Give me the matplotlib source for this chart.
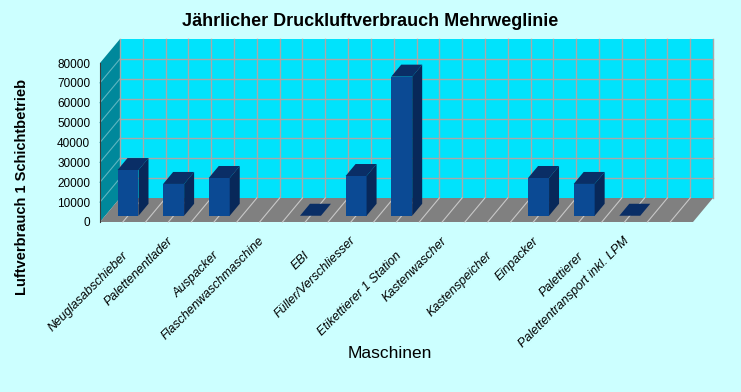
import numpy as np
import matplotlib
matplotlib.use("Agg")
import matplotlib.pyplot as plt
from matplotlib.patches import Polygon

plt.rcParams["font.family"] = ["Liberation Sans", "DejaVu Sans"]

# --- Daten ---
maschinen = ["Neuglasabschieber", "Palettenentlader", "Auspacker",
             "Flaschenwaschmaschine", "EBI", "Füller/Verschliesser",
             "Etikettierer 1 Station", "Kastenwascher", "Kastenspeicher",
             "Einpacker", "Palettierer", "Palettentransport inkl. LPM", ""]
verbrauch = [23000, 16000, 19000, None, 0, 20000, 70000, None, None,
             19000, 16000, 0, None]
y_ticks = [0, 10000, 20000, 30000, 40000, 50000, 60000, 70000, 80000]

# --- Farben ---
bg = "#CCFFFF"
wand = "#00E3FC"
seite = "#00889B"
boden = "#808080"
gitter = "#A8A8A8"
front = "#0B4A94"
oben = "#0A2E66"
rechts = "#082859"

n = len(maschinen)
ymax = y_ticks[-1]

fig = plt.figure(figsize=(7.41, 3.92), dpi=100, facecolor=bg)
ax = fig.add_axes([100 / 741, 170 / 392, 593 / 741, 159 / 392])
ax.set_xlim(0, n); ax.set_ylim(0, ymax)
ax.patch.set_visible(False)

# Tiefe der 3D-Darstellung (in Datenkoordinaten, aus Pixeln umgerechnet)
px_x = 593 / n
px_y = 159 / ymax
dx = 20 / px_x
dy = 24 / px_y

def poly(pts, fc, z, ec="none", lw=0):
    ax.add_patch(Polygon(pts, closed=True, fc=fc, ec=ec, lw=lw, zorder=z, clip_on=False))

# Rückwand, Seitenwand, Boden
poly([(dx, dy), (n + dx, dy), (n + dx, ymax + dy), (dx, ymax + dy)], wand, 1)
poly([(0, 0), (dx, dy), (dx, ymax + dy), (0, ymax)], seite, 1)
poly([(0, 0), (n, 0), (n + dx, dy), (dx, dy)], boden, 2)

# Gitterlinien
for t in y_ticks[1:-1]:
    ax.plot([dx, n + dx], [t + dy, t + dy], color=gitter, lw=1, zorder=1.5, clip_on=False)
    ax.plot([0, dx], [t, t + dy], color="#5FB5C0", lw=0.8, zorder=1.5, clip_on=False)
for k in np.arange(0, n + 0.01, 0.5):
    ax.plot([k + dx, k + dx], [dy, ymax + dy], color=gitter, lw=1, zorder=1.5, clip_on=False)
    if 0 < k < n:
        ax.plot([k, k + dx], [0, dy], color="#C8C8C8", lw=0.8, zorder=2.5, clip_on=False)

# Säulen
breite = 0.46
f0, f1 = 0.26, 0.76
for i, v in enumerate(verbrauch):
    if v is None:
        continue
    xl = i + 0.5 - breite / 2
    xr = i + 0.5 + breite / 2
    a = (f0 * dx, f0 * dy)
    b = (f1 * dx, f1 * dy)
    poly([(xl + a[0], v + a[1]), (xr + a[0], v + a[1]),
          (xr + b[0], v + b[1]), (xl + b[0], v + b[1])], oben, 4)
    if v > 0:
        poly([(xl + a[0], a[1]), (xr + a[0], a[1]),
              (xr + a[0], v + a[1]), (xl + a[0], v + a[1])], front, 4)
        poly([(xr + a[0], a[1]), (xr + b[0], b[1]),
              (xr + b[0], v + b[1]), (xr + a[0], v + a[1])], rechts, 4)

# Achsen
for s in ["top", "right", "bottom"]:
    ax.spines[s].set_visible(False)
ax.spines["left"].set_color("#3A3A3A")
ax.spines["left"].set_linewidth(0.8)
ax.spines["left"].set_zorder(3)
ax.set_xticks([])
ax.set_yticks(y_ticks)
ax.set_yticklabels([str(t) for t in y_ticks], fontsize=8.5)
ax.tick_params(axis="y", length=0, pad=7)

# Kategorienbeschriftung (gestaffelt, 45°)
for i, name in enumerate(maschinen):
    ax.annotate(name, xy=(i + 0.5, 0), xycoords="data",
                xytext=(3, -32 if i % 2 == 0 else -17), textcoords="offset pixels",
                rotation=45, rotation_mode="anchor", ha="right", va="center",
                fontsize=9, style="italic", annotation_clip=False)

fig.text(370 / 741, 1 - 22 / 392, "Jährlicher Druckluftverbrauch Mehrweglinie",
         ha="center", va="center", fontsize=13, fontweight="bold")
fig.text(22 / 741, 1 - 187 / 392, "Luftverbrauch 1 Schichtbetrieb",
         ha="center", va="center", rotation=90, fontsize=10.5, fontweight="bold")
fig.text(390 / 741, 1 - 353 / 392, "Maschinen", ha="center", va="center", fontsize=12.5)

fig.savefig("out.png", dpi=100, facecolor=bg)
